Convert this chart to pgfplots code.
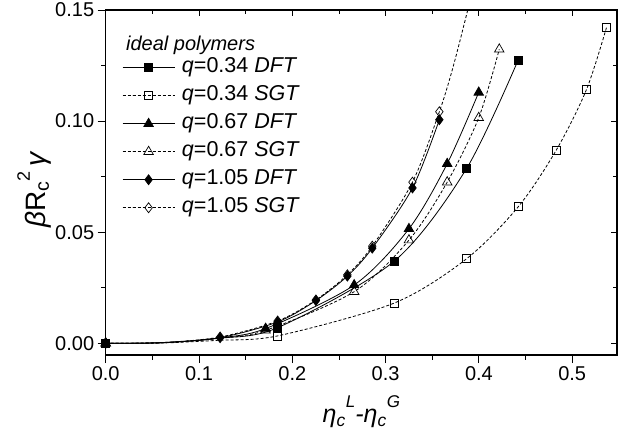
\documentclass[border=0pt]{standalone}
\usepackage{fontspec}
\setmainfont{Liberation Sans}
\usepackage{pgfplots}
\pgfplotsset{compat=1.18}

\begin{document}
\begin{tikzpicture}
\useasboundingbox (-105.7pt,-81pt) rectangle (512.3pt,355pt);
\pgfplotsset{
  common/.style={
    at={(0pt,0pt)}, anchor=south west, scale only axis,
    width=511.3pt, height=345pt,
    xmin=0, xmax=0.548, ymin=-0.0053, ymax=0.15,
    xtick={0,0.1,0.2,0.3,0.4,0.5},
    ytick={0,0.05,0.1,0.15},
    minor x tick num=1, minor y tick num=1,
  }
}
% mirror ticks (top/right, inward)
\begin{axis}[common,
  xtick pos=right, ytick pos=right, tick align=inside,
  xticklabels={}, yticklabels={},
  major tick length=6pt, minor tick length=4pt,
  every tick/.style={black, line width=0.9pt},
  axis line style={draw=none},
]
\end{axis}
\begin{axis}[common,
  xtick pos=left, ytick pos=left, tick align=outside,
  major tick length=8pt, minor tick length=4.5pt,
  every tick/.style={black, line width=0.9pt},
  axis line style={black, line width=1.2pt},
  clip mode=individual,
  /pgf/number format/assume math mode=true,
  xticklabel style={font=\fontsize{20}{22}\selectfont, /pgf/number format/.cd, fixed, fixed zerofill, precision=1},
  yticklabel style={font=\fontsize{20}{22}\selectfont, /pgf/number format/.cd, fixed, fixed zerofill, precision=2},
  scaled ticks=false,
  xlabel={\textit{η\textsubscript{c}\raisebox{0.6em}{\fontsize{17}{19}\selectfont L}-η\textsubscript{c}\raisebox{0.6em}{\fontsize{17}{19}\selectfont G}}},
  ylabel={\textit{β}R\textsubscript{c}\raisebox{0.55em}{\fontsize{18}{20}\selectfont 2}\,\textit{γ}},
  every axis x label/.style={at={(axis description cs:0.5,-0.165)}, anchor=center, font=\fontsize{25}{27}\selectfont},
  every axis y label/.style={at={(axis description cs:-0.14,0.48)}, anchor=center, rotate=90, font=\fontsize{28}{30}\selectfont},
  legend style={draw=none, fill=none, at={(axis description cs:0.026,0.868)}, anchor=north west,
    font=\fontsize{21.5}{23}\selectfont, row sep=8pt, column sep=5pt,
    nodes={inner sep=1pt, inner xsep=2pt, text height=14pt, text depth=4pt}},
  legend cell align=left,
  legend image code/.code={\draw[#1, mark repeat=2, mark phase=2, mark indices={2}] plot coordinates {(0pt,0pt) (26pt,0pt) (52pt,0pt)};},
  every axis plot/.append style={black, line width=0.8pt},
]
\node[anchor=west, font=\fontsize{20}{22}\selectfont\itshape] at (axis description cs:0.033,0.897) {ideal polymers};

% q=0.34 DFT
\addplot[solid, smooth, mark=square*, mark size=4pt, mark options={solid, line width=0.7pt}, mark indices={1,4,5,6,7}] coordinates {
(0,0) (0.06,0.0002) (0.12,0.0022) (0.1843,0.0070) (0.3094,0.0370) (0.3867,0.0786) (0.4421,0.1275)};
\addlegendentry{\textit{q}=0.34 \textit{DFT}}
% q=0.34 SGT
\addplot[dash pattern=on 3pt off 2pt, smooth, mark=square, mark options={solid, fill=white, line width=0.7pt}, mark size=4pt, mark indices={1,4,5,6,7,8,9,10}] coordinates {
(0,0) (0.06,0.0001) (0.12,0.0013) (0.1843,0.0033) (0.3094,0.0181) (0.3867,0.0380) (0.4421,0.0614) (0.483,0.0870) (0.5152,0.1141) (0.5368,0.1422)};
\addlegendentry{\textit{q}=0.34 \textit{SGT}}
% q=0.67 DFT
\addplot[solid, smooth, mark=triangle*, mark size=5.5pt, mark options={solid, line width=0.7pt}, mark indices={1,4,5,6,7,8}] coordinates {
(0,0) (0.06,0.0002) (0.12,0.0023) (0.1714,0.0066) (0.2663,0.0262) (0.3250,0.0515) (0.3660,0.0808) (0.3998,0.1129)};
\addlegendentry{\textit{q}=0.67 \textit{DFT}}
% q=0.67 SGT
\addplot[dash pattern=on 3pt off 2pt, smooth, mark=triangle, mark options={solid, fill=white, line width=0.7pt}, mark size=5.5pt, mark indices={1,4,5,6,7,8,9}] coordinates {
(0,0) (0.06,0.0002) (0.12,0.0021) (0.1714,0.0058) (0.2663,0.0232) (0.3250,0.0464) (0.3660,0.0725) (0.3998,0.1015) (0.4218,0.1323)};
\addlegendentry{\textit{q}=0.67 \textit{SGT}}
% q=1.05 DFT
\addplot[solid, smooth, mark=diamond*, mark size=5pt, mark options={solid, line width=0.7pt}, mark indices={1,3,4,5,6,7,8,9}] coordinates {
(0,0) (0.06,0.0003) (0.1226,0.0025) (0.1843,0.0096) (0.2253,0.0192) (0.2590,0.0302) (0.2857,0.0428) (0.3288,0.0699) (0.3576,0.1006)};
\addlegendentry{\textit{q}=1.05 \textit{DFT}}
% q=1.05 SGT
\addplot[dash pattern=on 3pt off 2pt, smooth, mark=diamond, mark options={solid, fill=white, line width=0.7pt}, mark size=5pt, mark indices={1,3,4,5,6,7,8,9}] coordinates {
(0,0) (0.06,0.0003) (0.1226,0.0028) (0.1843,0.0100) (0.2253,0.0195) (0.2590,0.0308) (0.2857,0.0437) (0.3288,0.0725) (0.3576,0.1042) (0.3724,0.1245) (0.3880,0.1500) (0.3905,0.1550)};
\addlegendentry{\textit{q}=1.05 \textit{SGT}}
\end{axis}
\end{tikzpicture}
\end{document}
